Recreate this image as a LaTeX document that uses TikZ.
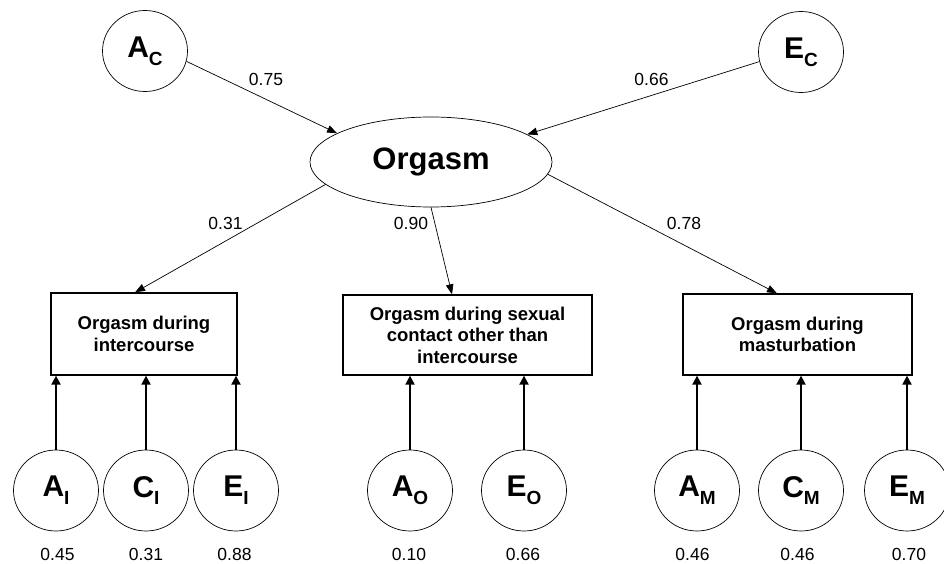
\documentclass[tikz,border=0pt]{standalone}
\usepackage{fontspec}
\setmainfont{Liberation Sans}
\usetikzlibrary{shapes.geometric,arrows.meta,calc}
\newcommand{\lvar}[2]{{\fontsize{30}{30}\selectfont\bfseries #1}{\fontsize{19}{19}\selectfont\bfseries\raisebox{-7.7pt}{#2}}}
\begin{document}
\begin{tikzpicture}[x=1pt,y=-1pt,
 latent/.style={ellipse,draw,line width=0.7pt,minimum width=85pt,minimum height=81pt,inner sep=0pt},
 obs/.style={rectangle,draw,line width=1.3pt,align=center,font=\fontsize{18.5}{21.5}\selectfont\bfseries,inner sep=0pt},
 pth/.style={-{Triangle[length=10pt,width=7.5pt]},line width=0.7pt},
 vpth/.style={-{Triangle[length=9pt,width=9pt]},line width=2pt},
 coef/.style={font=\fontsize{17.5}{17.5}\selectfont,inner sep=0pt}]
\useasboundingbox (0,0) rectangle (944,564);
\clip (0,0) rectangle (944,564);

% top latent factors
\node[latent] (Ac) at (145,51) {\lvar{A}{C}};
\node[latent] (Ec) at (801,52) {\lvar{E}{C}};
\node[ellipse,draw,line width=0.7pt,minimum width=242pt,minimum height=90pt,inner sep=0pt,
      font=\fontsize{31}{31}\selectfont\bfseries] (org) at (431,162) {Orgasm};

% observed boxes
\node[obs,minimum width=186pt,minimum height=82pt] (b1) at (144,334) {Orgasm during\\intercourse};
\node[obs,minimum width=249pt,minimum height=80pt] (b2) at (467.5,335) {Orgasm during sexual\\contact other than\\intercourse};
\node[obs,minimum width=229pt,minimum height=81pt] (b3) at (797.5,334.5) {Orgasm during\\masturbation};

% bottom latent factors
\node[latent] (Ai) at (56,490.5) {\lvar{A}{I}};
\node[latent] (Ci) at (146,490.5) {\lvar{C}{I}};
\node[latent] (Ei) at (236,490.5) {\lvar{E}{I}};
\node[latent] (Ao) at (410,490.5) {\lvar{A}{O}};
\node[latent] (Eo) at (524,490.5) {\lvar{E}{O}};
\node[latent] (Am) at (697,490.5) {\lvar{A}{M}};
\node[latent] (Cm) at (801,490.5) {\lvar{C}{M}};
\node[latent] (Em) at (907,490.5) {\lvar{E}{M}};

% paths
\draw[pth] (Ac.-14) -- (org.163);
\draw[pth] (Ec.-167) -- (org.16.5);
\draw[pth] (org.-168.7) -- ([xshift=-9pt]b1.north);
\draw[pth] (org.south) -- ([xshift=-15.5pt]b2.north);
\draw[pth] (org.-6) -- ([xshift=-20.5pt]b3.north);

\foreach \n/\b in {Ai/b1,Ci/b1,Ei/b1,Ao/b2,Eo/b2,Am/b3,Cm/b3,Em/b3}
  \draw[vpth] (\n.north) -- (\n.north |- \b.south);

% coefficients
\node[coef] (k1) at (266,79.5) {0.75};
\node[coef] (k2) at (651.5,79) {0.66};
\node[coef] (k3) at (225.5,223.5) {0.31};
\node[coef] (k4) at (411,223) {0.90};
\node[coef] (k5) at (684,223) {0.78};
\node[coef] (k6) at (57.5,554) {0.45};
\node[coef] (k7) at (146,554) {0.31};
\node[coef] (k8) at (234.5,554) {0.88};
\node[coef] (k9) at (409,554) {0.10};
\node[coef] (k10) at (523,554) {0.66};
\node[coef] (k11) at (692.5,554) {0.46};
\node[coef] (k12) at (797.5,554) {0.46};
\node[coef] (k13) at (909,554) {0.70};
\end{tikzpicture}
\end{document}
